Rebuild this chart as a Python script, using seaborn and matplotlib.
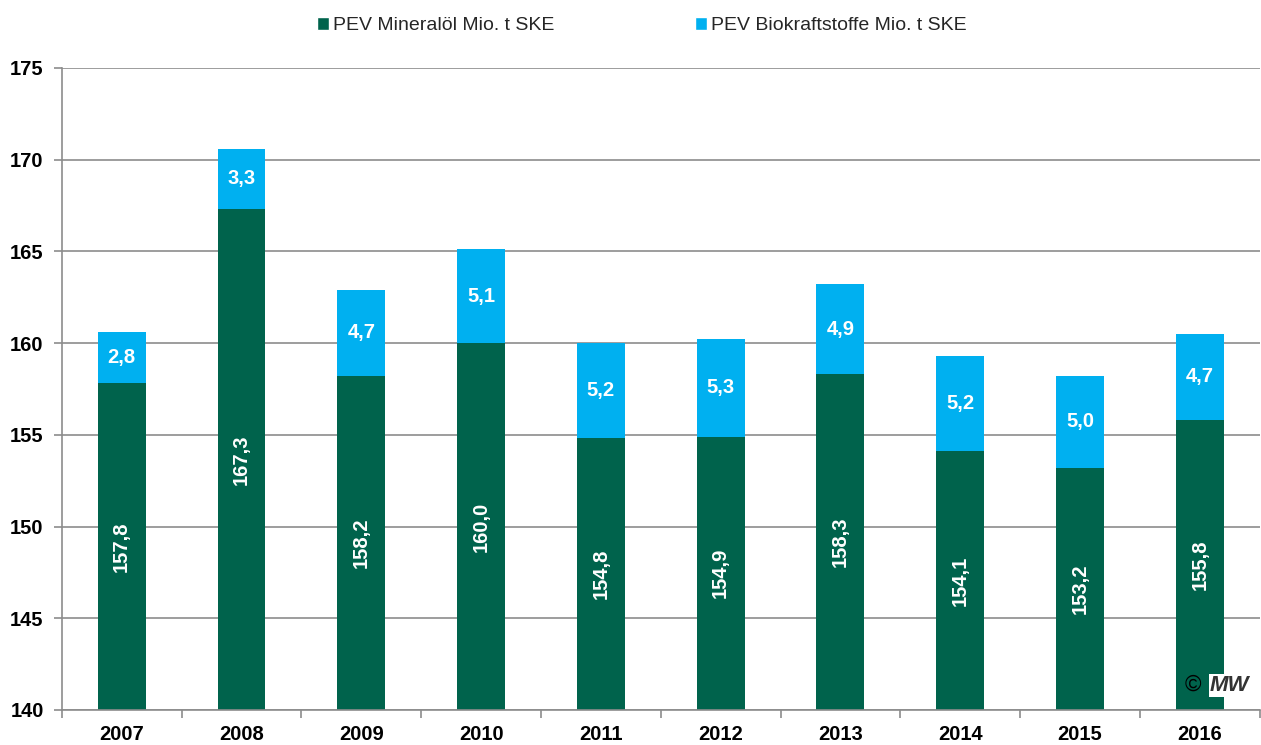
import matplotlib
matplotlib.use("Agg")
import matplotlib.pyplot as plt
from matplotlib.patches import Patch
import seaborn as sns
import pandas as pd

years = ["2007", "2008", "2009", "2010", "2011", "2012", "2013", "2014", "2015", "2016"]
mineraloel = [157.8, 167.3, 158.2, 160.0, 154.8, 154.9, 158.3, 154.1, 153.2, 155.8]
biokraftstoffe = [2.8, 3.3, 4.7, 5.1, 5.2, 5.3, 4.9, 5.2, 5.0, 4.7]

green = "#00634C"
blue = "#00B0F0"
grey = "#8C8C8C"

sns.set_theme(style="white")
plt.rcParams["font.family"] = ["Liberation Sans", "DejaVu Sans"]

df = pd.DataFrame({"Jahr": years, "Mineraloel": mineraloel, "Bio": biokraftstoffe})
df["Gesamt"] = df["Mineraloel"] + df["Bio"]

fig = plt.figure(figsize=(12.61, 7.45), dpi=100)
ax = fig.add_axes([0.049, 0.047, 0.95, 0.862])

sns.barplot(data=df, x="Jahr", y="Gesamt", color=blue, width=0.4, ax=ax, saturation=1, linewidth=0)
sns.barplot(data=df, x="Jahr", y="Mineraloel", color=green, width=0.4, ax=ax, saturation=1, linewidth=0)

ax.set_ylim(140, 175)
ax.set_xlim(-0.5, len(years) - 0.5)
ax.set_yticks(range(140, 176, 5))
ax.yaxis.grid(True, color=grey, linewidth=1.2)
ax.set_axisbelow(True)
ax.set_xlabel("")
ax.set_ylabel("")

for s in ["top", "right"]:
    ax.spines[s].set_visible(False)
for s in ["left", "bottom"]:
    ax.spines[s].set_color(grey)
    ax.spines[s].set_linewidth(1.2)

ax.set_xticks(range(len(years)))
ax.set_xticklabels(years, fontsize=14.5, fontweight="bold", color="black")
ax.tick_params(axis="x", length=0, pad=11)
ax.set_xticks([i + 0.5 for i in range(-1, len(years))], minor=True)
ax.tick_params(axis="x", which="minor", length=6, color=grey, width=1.2, direction="out", bottom=True)
for lbl in ax.get_yticklabels():
    lbl.set_fontweight("bold")
    lbl.set_fontsize(14.5)
    lbl.set_color("black")
ax.tick_params(axis="y", length=6, color=grey, width=1.2, direction="out", left=True, pad=7)

for i, (m, b) in enumerate(zip(mineraloel, biokraftstoffe)):
    ax.text(i, (140 + m) / 2, f"{m:.1f}".replace(".", ","), rotation=90, ha="center", va="center",
            color="white", fontsize=14.5, fontweight="bold")
    ax.text(i, m + b / 2, f"{b:.1f}".replace(".", ","), ha="center", va="center",
            color="white", fontsize=14.5, fontweight="bold")

handles = [Patch(facecolor=green, label="PEV Mineralöl Mio. t SKE"),
           Patch(facecolor=blue, label="PEV Biokraftstoffe Mio. t SKE")]
fig.legend(handles=handles, loc="center", bbox_to_anchor=(0.509, 0.966), ncol=2, frameon=False,
           fontsize=14, handlelength=0.65, handleheight=0.65, handletextpad=0.2, columnspacing=7.2)

ax.text(0.937, 0.038, "©", transform=ax.transAxes, fontsize=16, color="black", ha="left", va="center")
ax.text(0.958, 0.038, "MW", transform=ax.transAxes, fontsize=16, fontweight="bold", fontstyle="italic",
        color="#333333", ha="left", va="center",
        bbox=dict(facecolor="white", edgecolor="none", pad=0.5))

fig.savefig("out.png", dpi=100)
